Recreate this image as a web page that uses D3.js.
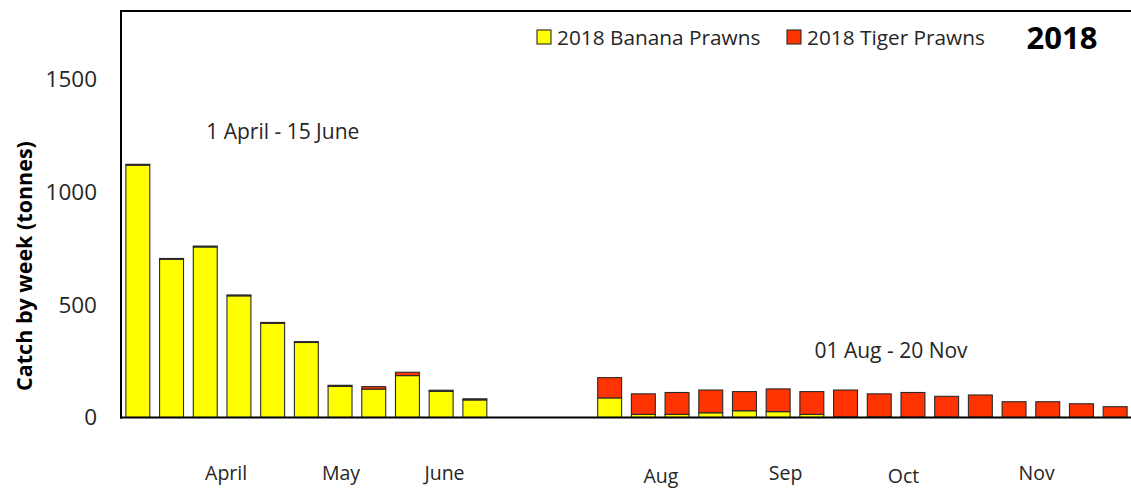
<!DOCTYPE html>
<html>
<head>
<meta charset="utf-8">
<script src="https://cdn.jsdelivr.net/npm/d3@7"></script>
<style>
  html, body { margin: 0; padding: 0; background: #ffffff; }
  svg { display: block; }
  text { font-family: "Open Sans", "DejaVu Sans", sans-serif; }
</style>
</head>
<body>
<div id="chart"></div>
<script>
// ---- data ----
const weeks = [
  "01 Apr","08 Apr","15 Apr","22 Apr","29 Apr","06 May","13 May","20 May","27 May","03 Jun","10 Jun",
  "closed 1","closed 2","closed 3",
  "01 Aug","08 Aug","15 Aug","22 Aug","29 Aug","05 Sep","12 Sep","19 Sep","26 Sep","03 Oct",
  "10 Oct","17 Oct","24 Oct","31 Oct","07 Nov","14 Nov"
];
const bananaPrawns = [
  1120, 702, 757, 540, 418, 333, 138, 126, 186, 116, 78,
  null, null, null,
  87, 14, 14, 21, 30, 26, 14, 2, 2, 1, 1, 1, 0, 0, 0, 0
];
const tigerPrawns = [
  4, 4, 4, 4, 4, 4, 5, 11, 15, 5, 5,
  null, null, null,
  90, 91, 97, 101, 85, 101, 101, 120, 103, 110, 93, 99, 70, 70, 61, 48
];
const seriesNames = ["2018 Banana Prawns", "2018 Tiger Prawns"];
const seriesColors = ["#FFFF00", "#FF3300"];
const yTicks = [0, 500, 1000, 1500];
const monthLabels = ["April", "May", "June", "Aug", "Sep", "Oct", "Nov"];
const monthWeekPos = [2.62, 6.03, 9.1, 15.52, 19.22, 22.72, 26.67]; // in week-index units
const seasonLabels = ["1 April - 15 June", "01 Aug - 20 Nov"];
const seasonAnchor = [{week: 4.8, value: 1236}, {week: 22.85, value: 262}];
const chartTitle = "2018";
const yTitle = "Catch by week (tonnes)";

// ---- layout ----
const W = 1131, H = 489;
const margin = {left: 121, right: -1, top: 12, bottom: 71.5};
const x0 = margin.left, x1 = W - margin.right;
const yBottom = H - margin.bottom, yTop = margin.top;

const svg = d3.select("#chart").append("svg")
  .attr("width", W).attr("height", H);

const x = d3.scaleBand().domain(weeks).range([x0, x1])
  .paddingInner(0.29).paddingOuter(0.145);
const xPos = d3.scaleLinear().domain([0, weeks.length]).range([x0, x1]);
const y = d3.scaleLinear().domain([0, 1800]).range([yBottom, yTop]);

const table = weeks.map((w, i) => ({week: w, banana: bananaPrawns[i], tiger: tigerPrawns[i]}))
  .filter(d => d.banana !== null);
const stack = d3.stack().keys(["banana", "tiger"]).value((d, k) => d[k] || 0);
const layers = stack(table);

// bars
const g = svg.append("g");
layers.forEach((layer, li) => {
  g.selectAll(null).data(layer.filter(d => d[1] - d[0] > 0)).enter().append("rect")
    .attr("x", d => x(d.data.week))
    .attr("width", x.bandwidth())
    .attr("y", d => y(d[1]))
    .attr("height", d => y(d[0]) - y(d[1]))
    .attr("fill", seriesColors[li])
    .attr("stroke", "#2a2a2a")
    .attr("stroke-width", 1.1);
});

// frame lines (left axis, bottom axis, top border)
svg.append("line").attr("x1", x0).attr("x2", x0).attr("y1", yTop - 1).attr("y2", yBottom + 1)
  .attr("stroke", "#000").attr("stroke-width", 2);
svg.append("line").attr("x1", x0 - 1).attr("x2", W).attr("y1", yBottom).attr("y2", yBottom)
  .attr("stroke", "#000").attr("stroke-width", 2);
svg.append("line").attr("x1", x0 - 1).attr("x2", W).attr("y1", yTop - 1).attr("y2", yTop - 1)
  .attr("stroke", "#000").attr("stroke-width", 2);

// y axis labels
const yAxis = d3.axisLeft(y).tickValues(yTicks).tickSize(0).tickPadding(24).tickFormat(d3.format("d"));
const ya = svg.append("g").attr("transform", `translate(${x0},0)`).call(yAxis);
ya.select(".domain").remove();
ya.selectAll("text").attr("font-size", 22.5).attr("fill", "#262626")
  .attr("font-family", "'Open Sans', sans-serif");

// y title
svg.append("text")
  .attr("transform", `translate(32,266) rotate(-90)`)
  .attr("text-anchor", "middle")
  .attr("font-size", 21.5).attr("font-weight", "bold").attr("fill", "#000")
  .text(yTitle);

// month labels
svg.selectAll(".month").data(monthLabels).enter().append("text")
  .attr("class", "month")
  .attr("x", (d, i) => xPos(monthWeekPos[i] + 0.5))
  .attr("y", (d, i) => (i === 3 || i === 5) ? 483 : 480)
  .attr("text-anchor", "middle")
  .attr("font-size", 19.5).attr("fill", "#262626")
  .text(d => d);

// season labels
svg.selectAll(".season").data(seasonLabels).enter().append("text")
  .attr("class", "season")
  .attr("x", (d, i) => xPos(seasonAnchor[i].week))
  .attr("y", (d, i) => y(seasonAnchor[i].value))
  .attr("text-anchor", "middle")
  .attr("font-size", 21).attr("fill", "#262626")
  .text(d => d);

// legend
const legendX = [537, 787];
seriesNames.forEach((name, i) => {
  svg.append("rect").attr("x", legendX[i]).attr("y", 30).attr("width", 14).attr("height", 14)
    .attr("fill", seriesColors[i]).attr("stroke", "#2a2a2a").attr("stroke-width", 1.1);
  svg.append("text").attr("x", legendX[i] + 20).attr("y", 44.5)
    .attr("font-size", 20.8).attr("fill", "#262626").text(name);
});

// chart title
svg.append("text").attr("x", 1062).attr("y", 49).attr("text-anchor", "middle")
  .attr("font-size", 31).attr("font-weight", "bold").attr("fill", "#000").text(chartTitle);
</script>
</body>
</html>
